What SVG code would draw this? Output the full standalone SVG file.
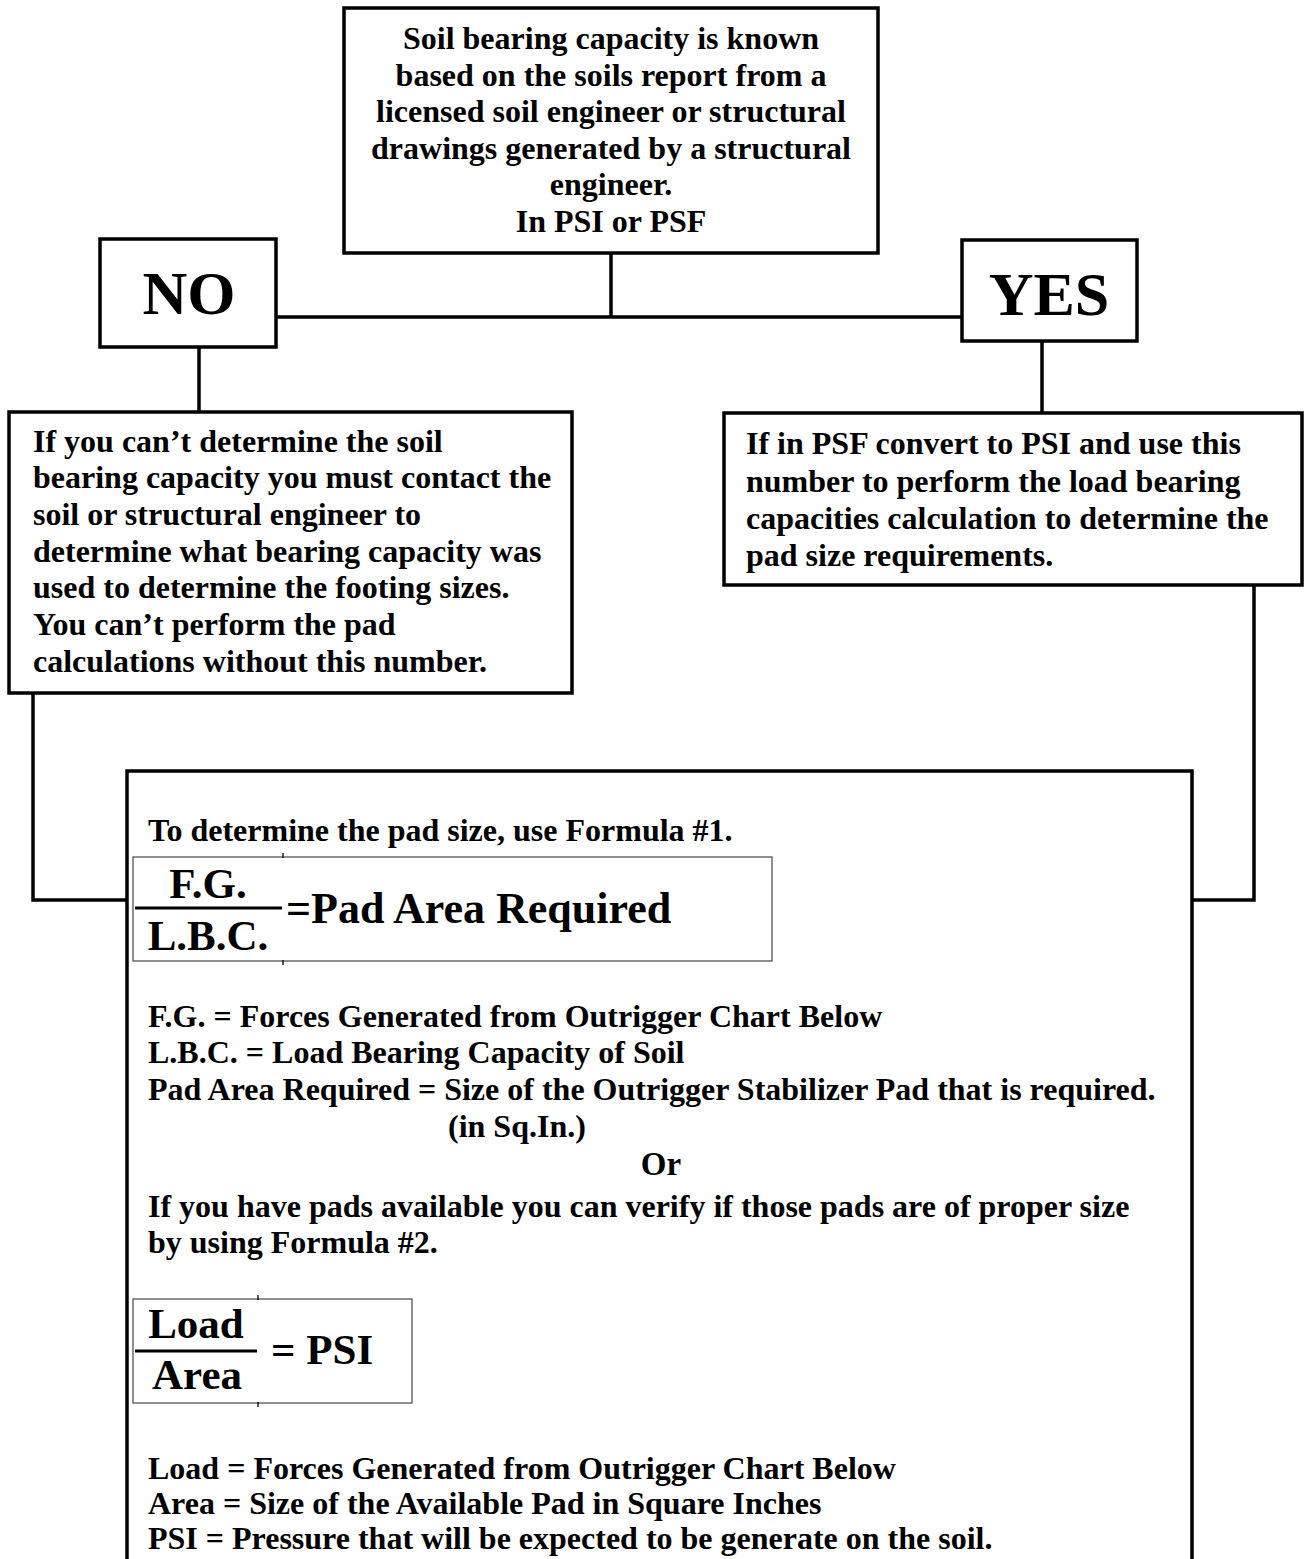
<svg xmlns="http://www.w3.org/2000/svg" width="1304" height="1559" viewBox="0 0 1304 1559">
<style>
.box{fill:#fff;stroke:#000;stroke-width:3.5}
.fbox{fill:#fff;stroke:#555;stroke-width:1.3}
.wire{fill:none;stroke:#000;stroke-width:3.5}
.t{font-family:"Liberation Serif","Times New Roman",serif;font-weight:bold;font-size:32px;fill:#000}
.c{text-anchor:middle}
.big{font-size:62px}
.f{font-size:43px}
</style>
<rect width="1304" height="1559" fill="#fff"/>
<g id="connectors">
<path class="wire" d="M611,253 V317"/>
<path class="wire" d="M276,317 H962"/>
<path class="wire" d="M199,347 V412"/>
<path class="wire" d="M1042,341 V413"/>
<path class="wire" d="M33,693 V900 H127"/>
<path class="wire" d="M1254,585 V900 H1192"/>
</g>
<g id="node-top">
<rect class="box" x="344" y="8" width="534" height="245"/>
<text class="t c" x="611" y="49">Soil bearing capacity is known</text>
<text class="t c" x="611" y="86">based on the soils report from a</text>
<text class="t c" x="611" y="122">licensed soil engineer or structural</text>
<text class="t c" x="611" y="159">drawings generated by a structural</text>
<text class="t c" x="611" y="195">engineer.</text>
<text class="t c" x="611" y="232">In PSI or PSF</text>
</g>
<g id="node-no">
<rect class="box" x="100" y="239" width="176" height="108"/>
<text class="t c big" x="189" y="314">NO</text>
</g>
<g id="node-yes">
<rect class="box" x="962" y="240" width="175" height="101"/>
<text class="t c big" x="1049" y="315">YES</text>
</g>
<g id="node-no-detail">
<rect class="box" x="9" y="412" width="563" height="281"/>
<text class="t" x="33" y="452">If you can’t determine the soil</text>
<text class="t" x="33" y="488">bearing capacity you must contact the</text>
<text class="t" x="33" y="525">soil or structural engineer to</text>
<text class="t" x="33" y="562">determine what bearing capacity was</text>
<text class="t" x="33" y="598">used to determine the footing sizes.</text>
<text class="t" x="33" y="635">You can’t perform the pad</text>
<text class="t" x="33" y="672">calculations without this number.</text>
</g>
<g id="node-yes-detail">
<rect class="box" x="724" y="413" width="578" height="172"/>
<text class="t" x="746" y="454">If in PSF convert to PSI and use this</text>
<text class="t" x="746" y="492">number to perform the load bearing</text>
<text class="t" x="746" y="529">capacities calculation to determine the</text>
<text class="t" x="746" y="566">pad size requirements.</text>
</g>
<g id="node-formulas">
<path class="box" d="M127,1565 V771 H1192 V1565"/>
<text class="t" x="148" y="841">To determine the pad size, use Formula #1.</text>
<rect class="fbox" x="133" y="857" width="639" height="104"/>
<path d="M283,853 V858 M283,960 V965" stroke="#000" stroke-width="1.3"/>
<text class="t c f" x="208" y="898">F.G.</text>
<line x1="135" y1="908" x2="282" y2="908" stroke="#000" stroke-width="3"/>
<text class="t c f" x="208" y="950">L.B.C.</text>
<text class="t" x="286" y="923" style="font-size:44px">=Pad Area Required</text>
<text class="t" x="148" y="1027">F.G. = Forces Generated from Outrigger Chart Below</text>
<text class="t" x="148" y="1063">L.B.C. = Load Bearing Capacity of Soil</text>
<text class="t" x="148" y="1100">Pad Area Required = Size of the Outrigger Stabilizer Pad that is required.</text>
<text class="t" x="448" y="1137">(in Sq.In.)</text>
<text class="t c" x="661" y="1175" style="font-size:33px">Or</text>
<text class="t" x="148" y="1217">If you have pads available you can verify if those pads are of proper size</text>
<text class="t" x="148" y="1253">by using Formula #2.</text>
<rect class="fbox" x="133" y="1299" width="279" height="104"/>
<path d="M258,1295 V1300 M258,1402 V1407" stroke="#000" stroke-width="1.3"/>
<text class="t c f" x="196" y="1338">Load</text>
<line x1="135" y1="1351" x2="257" y2="1351" stroke="#000" stroke-width="3"/>
<text class="t c f" x="197" y="1389">Area</text>
<text class="t f" x="271" y="1364">= PSI</text>
<text class="t" x="148" y="1479">Load = Forces Generated from Outrigger Chart Below</text>
<text class="t" x="148" y="1514">Area = Size of the Available Pad in Square Inches</text>
<text class="t" x="148" y="1549">PSI = Pressure that will be expected to be generate on the soil.</text>
</g>
</svg>
